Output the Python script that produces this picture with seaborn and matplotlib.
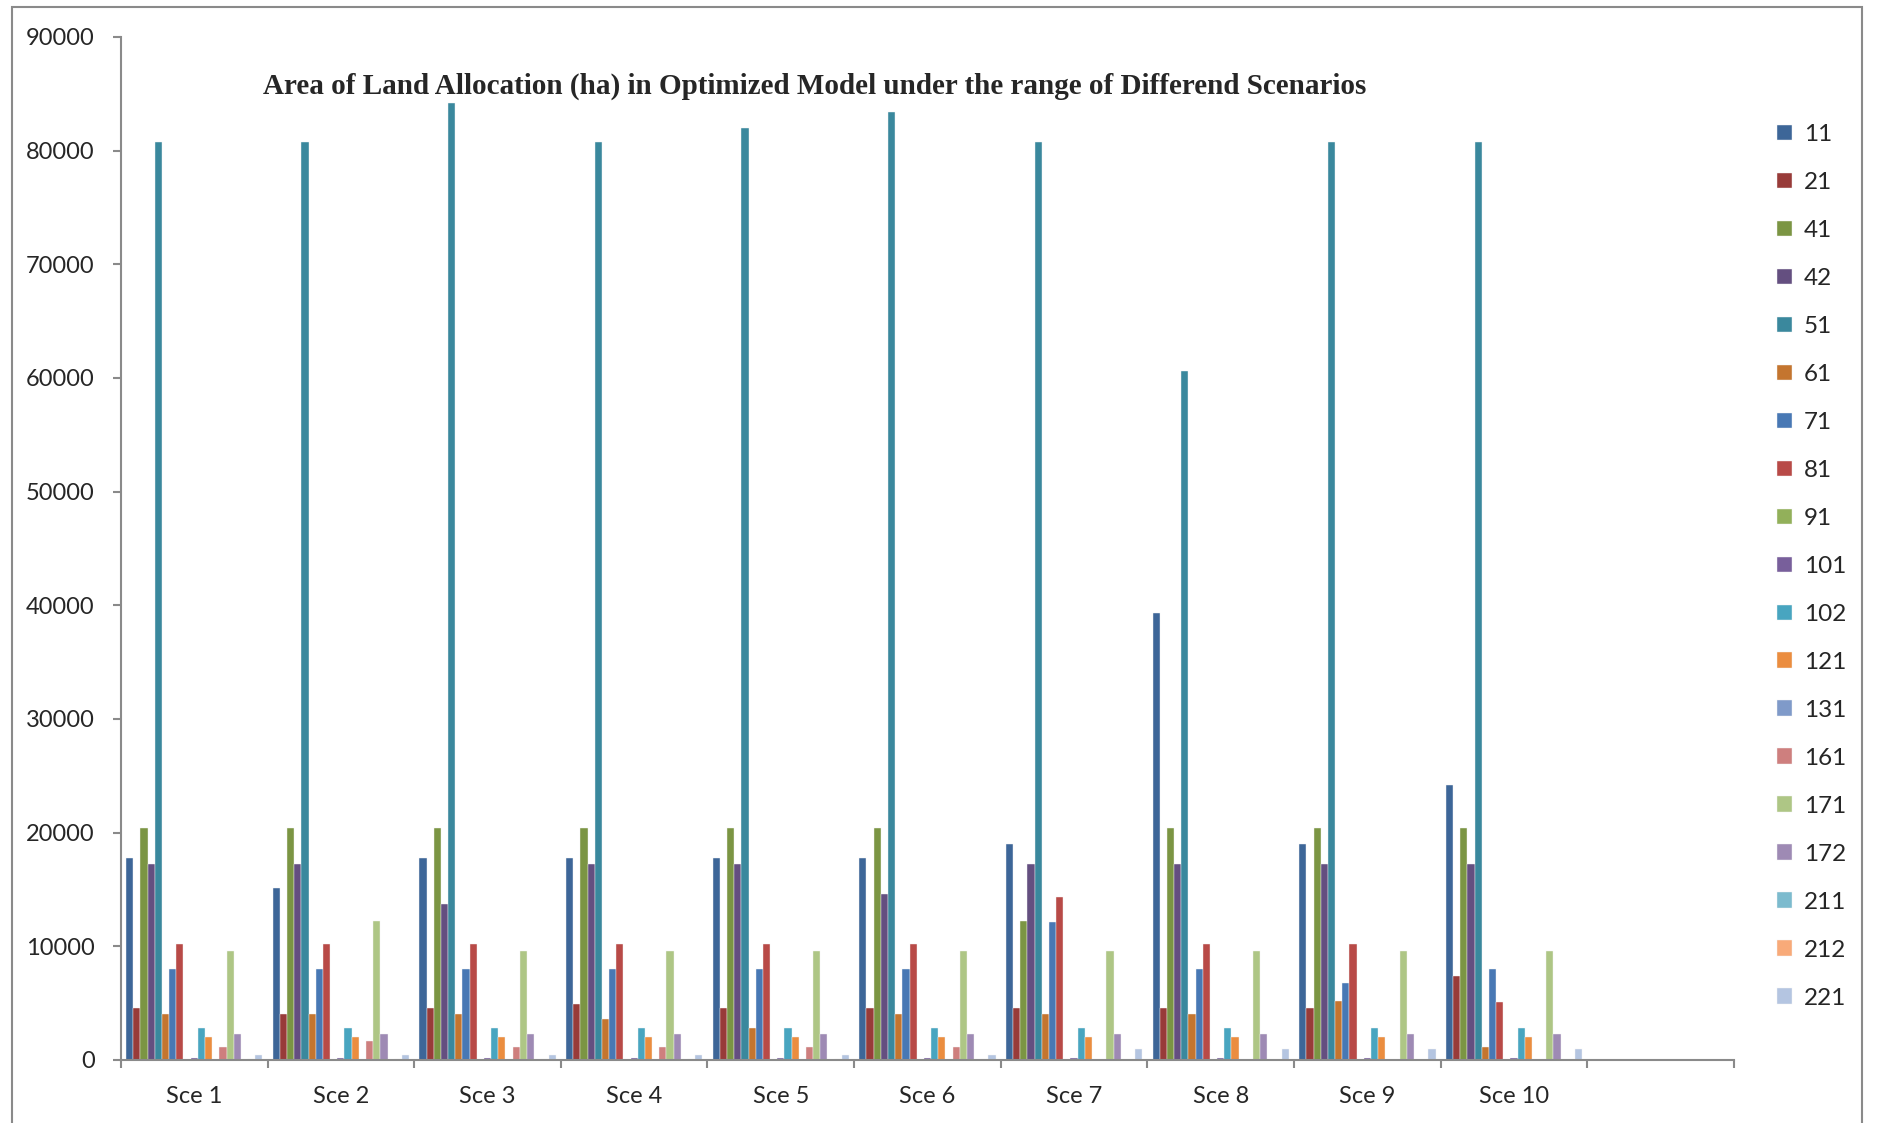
import matplotlib
matplotlib.use("Agg")
import matplotlib.pyplot as plt
from matplotlib.patches import Rectangle
import numpy as np
import pandas as pd
import seaborn as sns

scenarios = ["Sce 1", "Sce 2", "Sce 3", "Sce 4", "Sce 5",
             "Sce 6", "Sce 7", "Sce 8", "Sce 9", "Sce 10"]
land_classes = ["11", "21", "41", "42", "51", "61", "71", "81", "91", "101",
                "102", "121", "131", "161", "171", "172", "211", "212", "221"]

# area (ha) per land class, one list per scenario, in land_classes order
sce1 = [17800, 4560, 20440, 17200, 80800, 4030, 8000, 10240, 0, 200,
        2800, 2000, 0, 1100, 9620, 2320, 0, 90, 440]
sce2 = [15100, 4060, 20440, 17200, 80800, 4030, 8000, 10240, 0, 200,
        2800, 2000, 0, 1650, 12260, 2260, 0, 90, 440]
sce3 = [17800, 4560, 20440, 13740, 84200, 4030, 8000, 10240, 0, 200,
        2800, 2000, 0, 1100, 9620, 2320, 0, 90, 440]
sce4 = [17800, 4910, 20440, 17200, 80800, 3590, 8000, 10240, 0, 200,
        2800, 2000, 0, 1100, 9620, 2320, 0, 90, 440]
sce5 = [17800, 4560, 20440, 17200, 82000, 2800, 8000, 10240, 0, 200,
        2800, 2000, 0, 1100, 9620, 2320, 0, 90, 440]
sce6 = [17800, 4560, 20440, 14620, 83400, 4030, 8000, 10240, 0, 200,
        2800, 2000, 0, 1100, 9620, 2320, 0, 90, 440]
sce7 = [19030, 4560, 12260, 17200, 80800, 4030, 12120, 14320, 0, 200,
        2800, 2000, 0, 0, 9620, 2320, 0, 0, 940]
sce8 = [39300, 4560, 20440, 17200, 60600, 4030, 8000, 10240, 0, 200,
        2800, 2000, 0, 0, 9620, 2320, 0, 0, 940]
sce9 = [19030, 4560, 20440, 17200, 80800, 5210, 6760, 10240, 0, 200,
        2800, 2000, 0, 0, 9620, 2320, 0, 0, 940]
sce10 = [24200, 7350, 20440, 17200, 80800, 1150, 8000, 5090, 0, 200,
         2800, 2000, 0, 0, 9620, 2320, 0, 0, 940]

class_colors = ["#3D6698", "#983B39", "#7B9543", "#644F80", "#3A889D",
                "#C4752F", "#4878B4", "#B84A47", "#92B05A", "#785F9B",
                "#48A5C0", "#EB8D3F", "#7F9AC9", "#CE7F7E", "#AEC685",
                "#9E8AB4", "#7CBBCE", "#F8AA79", "#B4C5E1"]

all_values = [sce1, sce2, sce3, sce4, sce5, sce6, sce7, sce8, sce9, sce10]
rows = []
for sce, vals in zip(scenarios, all_values):
    for cls, v in zip(land_classes, vals):
        rows.append({"scenario": sce, "land_class": cls, "area": v})
df = pd.DataFrame(rows)

sns.set_theme(style="white")
plt.rcParams["font.family"] = ["Lato", "DejaVu Sans"]

fig = plt.figure(figsize=(18.78, 11.23), dpi=100)
ax = fig.add_axes([0.0644, 0.0561, 0.8589, 0.9110])

sns.barplot(data=df, x="scenario", y="area", hue="land_class",
            order=scenarios, hue_order=land_classes,
            palette=class_colors, width=0.93, gap=0,
            edgecolor="#F4F4F4", linewidth=0.3, errorbar=None,
            saturation=1, ax=ax, legend=True)

axis_grey = "#8A8A8A"
ax.set_xlim(-0.5, 10.5)
ax.set_ylim(0, 90000)
ax.set_yticks(np.arange(0, 90001, 10000))
ax.set_yticklabels([str(v) for v in range(0, 90001, 10000)], fontsize=17)

# category boundaries carry the tick marks, names sit at the centres
ax.set_xticks(np.arange(-0.5, 11.0, 1.0))
ax.set_xticklabels([])
ax.set_xticks(np.arange(len(scenarios)), minor=True)
ax.set_xticklabels(scenarios, minor=True, fontsize=17)
ax.tick_params(axis="x", which="major", direction="out", length=6,
               width=1.5, color=axis_grey, bottom=True)
ax.tick_params(axis="x", which="minor", length=0, pad=19, bottom=True)
ax.tick_params(axis="y", direction="out", length=6, width=1.5,
               color=axis_grey, pad=13, left=True)
ax.set_xlabel("")
ax.set_ylabel("")
ax.grid(False)

for side in ["top", "right"]:
    ax.spines[side].set_visible(False)
for side in ["left", "bottom"]:
    ax.spines[side].set_color(axis_grey)
    ax.spines[side].set_linewidth(1.5)

handles, labels = ax.get_legend_handles_labels()
ax.get_legend().remove()
fig.legend(handles, labels, loc="upper left",
           bbox_to_anchor=(1777 / 1878, 1 - 124 / 1123),
           frameon=False, fontsize=17.5, handlelength=0.6, handleheight=0.6,
           handletextpad=0.5, labelspacing=1.11, borderpad=0,
           borderaxespad=0)

fig.text(815 / 1878, 1 - 86 / 1123,
         "Area of Land Allocation (ha) in Optimized Model under the range of Differend Scenarios",
         ha="center", va="center", fontsize=21, fontweight="bold",
         family=["Liberation Serif", "DejaVu Serif"])

# outer chart frame
fig.patches.append(Rectangle((12 / 1878, -0.05), (1862 - 12) / 1878,
                             1.05 - 7 / 1123, transform=fig.transFigure,
                             fill=False, edgecolor=axis_grey, linewidth=1.5))

fig.savefig("out.png", dpi=100)
